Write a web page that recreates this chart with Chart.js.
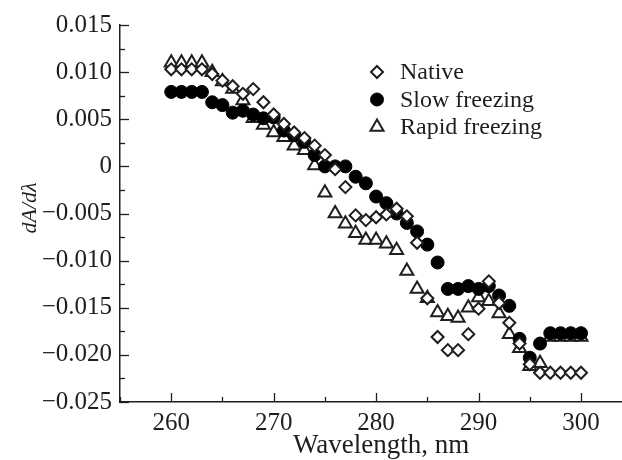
<!DOCTYPE html>
<html>
<head>
<meta charset="utf-8">
<script src="https://cdn.jsdelivr.net/npm/chart.js@4.4.0/dist/chart.umd.min.js"></script>
<style>
  html, body { margin: 0; padding: 0; background: #fff; }
  #wrap { width: 622px; height: 460px; position: relative; }
</style>
</head>
<body>
<div id="wrap"><canvas id="chart"></canvas></div>
<script>
// wavelengths, nm
const wavelengths = [260, 261, 262, 263, 264, 265, 266, 267, 268, 269,
  270, 271, 272, 273, 274, 275, 276, 277, 278, 279,
  280, 281, 282, 283, 284, 285, 286, 287, 288, 289,
  290, 291, 292, 293, 294, 295, 296, 297, 298, 299, 300];

// dA/dλ
const nativeValues = [0.0103, 0.0103, 0.0103, 0.0103, 0.0098, 0.0091, 0.0085, 0.0077, 0.0082, 0.0068,
  0.0055, 0.0045, 0.0036, 0.0030, 0.0022, 0.0012, -0.0003, -0.0022, -0.0052, -0.0057,
  -0.0054, -0.0051, -0.0045, -0.0053, -0.0081, -0.0140, -0.0181, -0.0195, -0.0195, -0.0178,
  -0.0151, -0.0122, -0.0145, -0.0166, -0.0188, -0.0210, -0.0219, -0.0219, -0.0219, -0.0219, -0.0219];

const slowValues = [0.0079, 0.0079, 0.0079, 0.0079, 0.0068, 0.0065, 0.0057, 0.0059, 0.0055, 0.0051,
  0.0052, 0.0038, 0.0033, 0.0026, 0.0012, 0.0000, 0.0000, 0.0000, -0.0011, -0.0018,
  -0.0032, -0.0039, -0.0050, -0.0060, -0.0069, -0.0083, -0.0102, -0.0130, -0.0130, -0.0127,
  -0.0130, -0.0127, -0.0137, -0.0148, -0.0183, -0.0203, -0.0188, -0.0177, -0.0177, -0.0177, -0.0177];

const rapidValues = [0.0110, 0.0110, 0.0110, 0.0110, 0.0100, 0.0090, 0.0082, 0.0070, 0.0051, 0.0044,
  0.0036, 0.0031, 0.0022, 0.0017, 0.0001, -0.0028, -0.0050, -0.0061, -0.0071, -0.0078,
  -0.0078, -0.0082, -0.0089, -0.0111, -0.0130, -0.0140, -0.0155, -0.0159, -0.0161, -0.0150,
  -0.0139, -0.0143, -0.0156, -0.0178, -0.0193, -0.0212, -0.0209, -0.0181, -0.0181, -0.0181, -0.0181];

const seriesNames = ['Native', 'Slow freezing', 'Rapid freezing'];

const xTickLabels = [260, 270, 280, 290, 300];
const yTickLabels = [0.015, 0.010, 0.005, 0, -0.005, -0.010, -0.015, -0.020, -0.025];

const ink = '#1e1e1e';
const serif = '"Liberation Serif", "Times New Roman", serif';

function toPoints(values) {
  return values.map((v, i) => ({ x: wavelengths[i], y: v }));
}

function fmtY(v) {
  const hit = yTickLabels.find(t => Math.abs(t - v) < 1e-7);
  if (hit === undefined) return '';
  if (hit === 0) return '0';
  return (hit < 0 ? '\u2212' : '') + Math.abs(hit).toFixed(3);
}

// inward tick marks, long on labelled ticks
const innerTicks = {
  id: 'innerTicks',
  afterDraw(chart) {
    const ctx = chart.ctx;
    const xs = chart.scales.x, ys = chart.scales.y;
    ctx.save();
    ctx.strokeStyle = ink;
    ctx.lineWidth = 1.3;
    xs.ticks.forEach(t => {
      if (Math.abs(t.value % 5) > 1e-6) return;
      const px = Math.round(xs.getPixelForValue(t.value)) + 0.5;
      const len = xTickLabels.includes(t.value) ? 9 : 5;
      ctx.beginPath();
      ctx.moveTo(px, ys.bottom);
      ctx.lineTo(px, ys.bottom - len);
      ctx.stroke();
    });
    ys.ticks.forEach(t => {
      const py = Math.round(ys.getPixelForValue(t.value)) + 0.5;
      const len = fmtY(t.value) !== '' ? 9 : 5;
      ctx.beginPath();
      ctx.moveTo(xs.left, py);
      ctx.lineTo(xs.left + len, py);
      ctx.stroke();
    });
    ctx.restore();
  }
};

// legend drawn inside the plot
const insideLegend = {
  id: 'insideLegend',
  afterDraw(chart) {
    const ctx = chart.ctx;
    const x0 = 377, y0 = 72, rowGap = 27.5;
    ctx.save();
    ctx.font = '24px ' + serif;
    ctx.textBaseline = 'middle';
    chart.data.datasets.forEach((ds, i) => {
      const y = y0 + i * rowGap;
      ctx.strokeStyle = ds.pointBorderColor;
      ctx.fillStyle = ds.pointBackgroundColor;
      ctx.lineWidth = ds.pointBorderWidth;
      Chart.helpers.drawPoint(ctx, {
        pointStyle: ds.pointStyle,
        radius: ds.pointRadius,
        rotation: 0,
        borderWidth: ds.pointBorderWidth
      }, x0, y);
      ctx.fillStyle = ink;
      ctx.fillText(ds.label, x0 + 23, y + 1);
    });
    ctx.restore();
  }
};

new Chart(document.getElementById('chart'), {
  type: 'scatter',
  data: {
    datasets: [
      {
        label: seriesNames[0],
        data: toPoints(nativeValues),
        pointStyle: 'rectRot',
        pointRadius: 6,
        pointBorderWidth: 2,
        pointBackgroundColor: '#ffffff',
        pointBorderColor: ink
      },
      {
        label: seriesNames[1],
        data: toPoints(slowValues),
        pointStyle: 'circle',
        pointRadius: 6.5,
        pointBorderWidth: 1,
        pointBackgroundColor: '#000000',
        pointBorderColor: '#000000'
      },
      {
        label: seriesNames[2],
        data: toPoints(rapidValues),
        pointStyle: 'triangle',
        pointRadius: 7.5,
        pointBorderWidth: 2,
        pointBackgroundColor: '#ffffff',
        pointBorderColor: ink
      }
    ]
  },
  options: {
    responsive: true,
    maintainAspectRatio: false,
    animation: false,
    layout: { autoPadding: false, padding: { top: 25, right: 0, left: 0, bottom: 0 } },
    plugins: {
      legend: { display: false },
      tooltip: { enabled: false }
    },
    scales: {
      x: {
        type: 'linear',
        min: 255,
        max: 304,
        afterFit(scale) {
          scale.height = 58;
          scale.paddingLeft = 0;
          scale.paddingRight = 0;
        },
        ticks: {
          stepSize: 5,
          includeBounds: false,
          autoSkip: false,
          maxRotation: 0,
          padding: 6,
          color: ink,
          font: { family: serif, size: 25 },
          callback: v => xTickLabels.includes(v) ? String(v) : ''
        },
        grid: { display: false, drawTicks: false },
        border: { display: true, color: ink, width: 1.5 },
        title: {
          display: true,
          text: '   Wavelength, nm',
          color: ink,
          font: { family: serif, size: 27 },
          padding: { top: 0, bottom: -2 }
        }
      },
      y: {
        min: -0.025,
        max: 0.015,
        afterFit(scale) {
          scale.width = 120;
          scale.paddingTop = 0;
          scale.paddingBottom = 0;
        },
        ticks: {
          stepSize: 0.0025,
          autoSkip: false,
          padding: 8,
          color: ink,
          font: { family: serif, size: 25 },
          callback: v => fmtY(v)
        },
        grid: { display: false, drawTicks: false },
        border: { display: true, color: ink, width: 1.5 },
        title: {
          display: true,
          text: '  dA/d\u03bb',
          color: ink,
          font: { family: serif, size: 22, style: 'italic' },
          padding: { top: 17, bottom: 0 }
        }
      }
    }
  },
  plugins: [innerTicks, insideLegend]
});
</script>
</body>
</html>
